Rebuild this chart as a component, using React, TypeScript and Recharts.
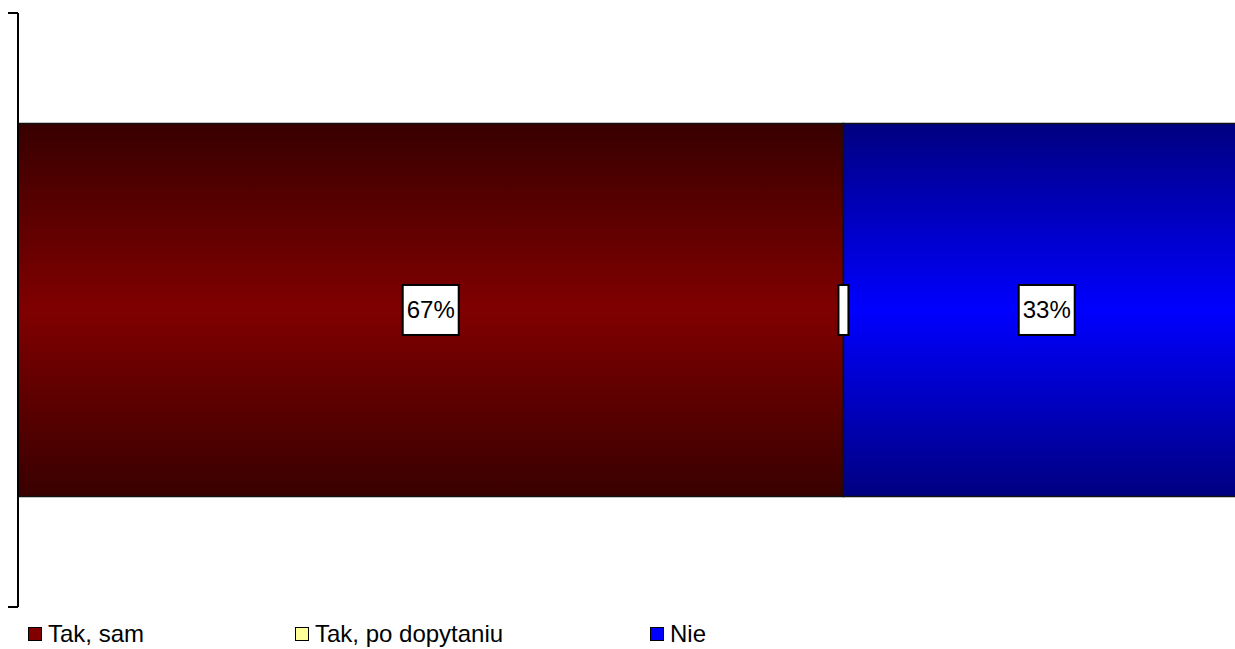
import React from 'react';
import { BarChart, Bar, XAxis, YAxis, Legend, LabelList, usePlotArea } from 'recharts';

// single category, 100% stacked horizontal bar
const categories = [''];
const seriesNames = ['Tak, sam', 'Tak, po dopytaniu', 'Nie'];
const takSam = [67];
const takPoDopytaniu = [0];
const nie = [33];

const seriesKeys = ['takSam', 'takPo', 'nie'];
const seriesFills = ['url(#gradRed)', '#ffff99', 'url(#gradBlue)'];
const legendColors = ['#800000', '#ffff99', '#0000ff'];
const legendWidths = [267, 355, 120];

const FONT = '"Liberation Sans", Arial, sans-serif';

const chartData = categories.map((name, i) => ({
  name,
  takSam: takSam[i],
  takPo: takPoDopytaniu[i],
  nie: nie[i],
}));

const LabelBox = ({ cx, cy, text }: { cx: number; cy: number; text: string }) => {
  const boxW = text ? 56 : 10;
  const boxH = 50;
  return (
    <g>
      <rect x={cx - boxW / 2} y={cy - boxH / 2} width={boxW} height={boxH} fill="#fff" stroke="#000" strokeWidth={2} />
      {text && (
        <text x={cx} y={cy} textAnchor="middle" dominantBaseline="central" fontFamily={FONT} fontSize={24} fill="#000">
          {text}
        </text>
      )}
    </g>
  );
};

// white boxed label in the middle of each segment
const renderLabel = (props: any) => {
  const { x, y, width, height, value } = props;
  const cx = Number(x) + Number(width) / 2;
  const cy = Number(y) + Number(height) / 2;
  return <LabelBox cx={cx} cy={cy} text={value > 0 ? `${value}%` : ''} />;
};

// the zero-width "Tak, po dopytaniu" segment sits on the left edge of "Nie",
// recharts skips labels of empty bars so it is drawn from there
const renderZeroLabel = (props: any) => {
  const { x, y, height, index } = props;
  if (takPoDopytaniu[index ?? 0] !== 0) return null;
  return <LabelBox cx={Number(x)} cy={Number(y) + Number(height) / 2} text="" />;
};

// short tick marks at both ends of the category axis
const AxisEnds = () => {
  const area = usePlotArea();
  if (!area) return null;
  const { x, y, height } = area;
  return (
    <g stroke="#000" strokeWidth={2}>
      <line x1={x - 10} y1={y} x2={x} y2={y} />
      <line x1={x - 10} y1={y + height} x2={x} y2={y + height} />
    </g>
  );
};

const renderLegend = () => (
  <div style={{ display: 'flex', fontFamily: FONT, fontSize: 24, color: '#000', height: 28, alignItems: 'center' }}>
    {seriesNames.map((name, i) => (
      <div key={name} style={{ display: 'flex', alignItems: 'center', width: legendWidths[i] }}>
        <span
          style={{
            display: 'inline-block',
            width: 12,
            height: 12,
            background: legendColors[i],
            border: '1px solid #000',
            marginRight: 6,
          }}
        />
        <span>{name}</span>
      </div>
    ))}
  </div>
);

const App: React.FC = () => {
  return (
    <div style={{ position: 'absolute', left: 0, top: 0, width: 1235, height: 649, overflow: 'hidden', background: '#fff' }}>
      <BarChart
        width={1250}
        height={649}
        data={chartData}
        layout="vertical"
        margin={{ top: 13, right: 0, left: 0, bottom: 14 }}
        barCategoryGap="18.6%"
      >
        <defs>
          <linearGradient id="gradRed" x1="0" y1="0" x2="0" y2="1">
            <stop offset="0%" stopColor="#380000" />
            <stop offset="50%" stopColor="#800000" />
            <stop offset="100%" stopColor="#380000" />
          </linearGradient>
          <linearGradient id="gradBlue" x1="0" y1="0" x2="0" y2="1">
            <stop offset="0%" stopColor="#000080" />
            <stop offset="50%" stopColor="#0000ff" />
            <stop offset="100%" stopColor="#000080" />
          </linearGradient>
        </defs>
        <XAxis type="number" domain={[0, 100]} hide />
        <YAxis
          type="category"
          dataKey="name"
          width={18}
          tick={false}
          tickLine={false}
          axisLine={{ stroke: '#000', strokeWidth: 2 }}
        />
        <Legend
          verticalAlign="bottom"
          align="left"
          content={renderLegend}
          wrapperStyle={{ left: 28, top: 620 }}
        />
        {seriesKeys.map((key, i) => (
          <Bar
            key={key}
            dataKey={key}
            name={seriesNames[i]}
            stackId="a"
            fill={seriesFills[i]}
            stroke="#111"
            strokeWidth={1.5}
            isAnimationActive={false}
          >
            <LabelList dataKey={key} content={renderLabel} />
            {key === 'nie' && <LabelList dataKey={key} content={renderZeroLabel} />}
          </Bar>
        ))}
        <AxisEnds />
      </BarChart>
    </div>
  );
};

export default App;
